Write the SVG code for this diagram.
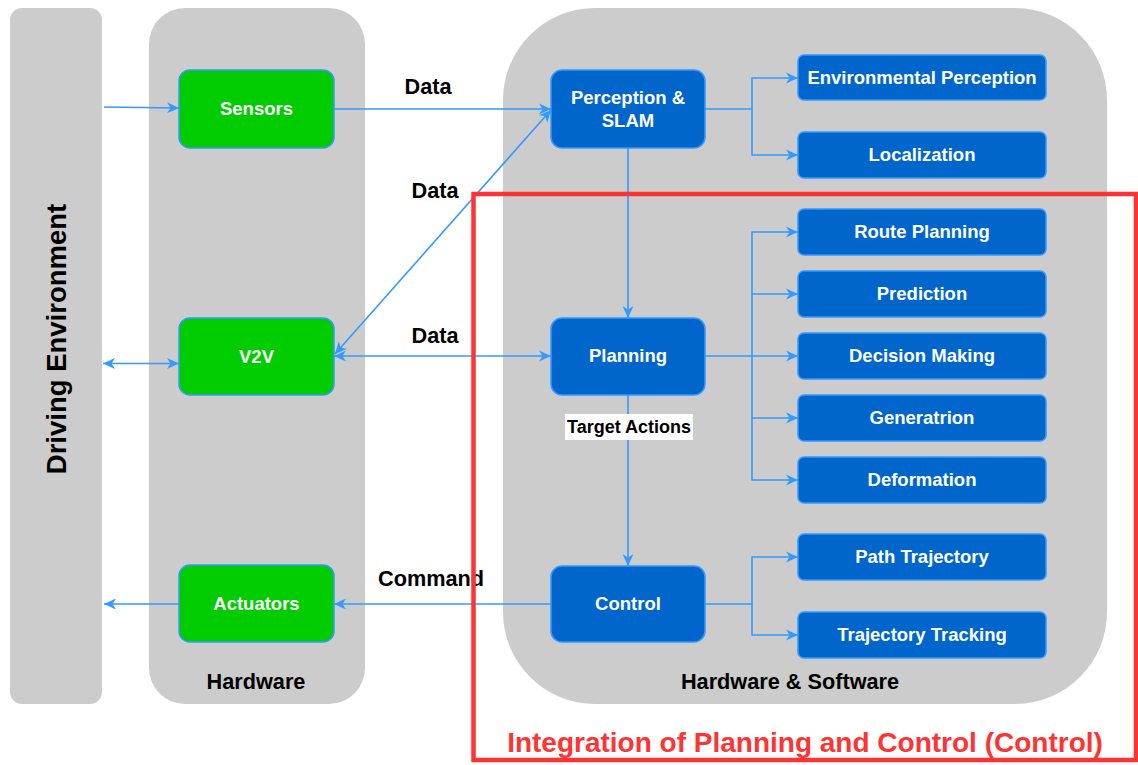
<svg xmlns="http://www.w3.org/2000/svg" width="1138" height="765" viewBox="0 0 1138 765">
  <style>
    .panel { fill: #CCCCCC; }
    .hw { fill: #00CC00; stroke: #3399FF; stroke-width: 1.5; }
    .sw { fill: #0066CC; stroke: #3399FF; stroke-width: 1.5; }
    .nt { font-family: "Liberation Sans", Arial, sans-serif; font-weight: bold; font-size: 18.5px; fill: #FFFFFF; text-anchor: middle; }
    .lbl { font-family: "Liberation Sans", Arial, sans-serif; font-weight: bold; font-size: 21.7px; fill: #000000; text-anchor: middle; }
    .edge { fill: none; stroke: #3399FF; stroke-width: 1.6; }
  </style>
  <defs>
    <marker id="arrow" markerUnits="userSpaceOnUse" markerWidth="13" markerHeight="12" refX="12" refY="6" orient="auto-start-reverse">
      <path d="M0,0.5 L12,6 L0,11.5 L3.5,6 z" fill="#3399FF"/>
    </marker>
  </defs>

  <rect width="1138" height="765" fill="#FFFFFF"/>

  <!-- container panels -->
  <g id="driving-environment">
    <rect class="panel" x="10" y="8" width="92" height="696" rx="12"/>
    <text class="lbl" style="font-size:27.5px" transform="translate(66,339) rotate(-90)">Driving Environment</text>
  </g>
  <g id="hardware">
    <rect class="panel" x="149" y="8" width="216" height="696" rx="36"/>
    <text class="lbl" x="256" y="689">Hardware</text>
  </g>
  <g id="hardware-software">
    <rect class="panel" x="503" y="8" width="604" height="696" rx="92"/>
    <text class="lbl" x="790" y="689">Hardware &amp; Software</text>
  </g>

  <!-- connectors -->
  <g id="connectors">
    <path class="edge" d="M104,107 L179,108" marker-end="url(#arrow)"/>
    <path class="edge" d="M334,109 L551,109" marker-end="url(#arrow)"/>
    <path class="edge" d="M335,354 L551,110" marker-start="url(#arrow)" marker-end="url(#arrow)"/>
    <path class="edge" d="M334,356 L551,356" marker-start="url(#arrow)" marker-end="url(#arrow)"/>
    <path class="edge" d="M103,363.5 L179,363.5" marker-start="url(#arrow)" marker-end="url(#arrow)"/>
    <path class="edge" d="M628,148 L628,318" marker-end="url(#arrow)"/>
    <path class="edge" d="M628,395 L628,566" marker-end="url(#arrow)"/>
    <path class="edge" d="M551,604 L334,604" marker-end="url(#arrow)"/>
    <path class="edge" d="M179,604 L104,604" marker-end="url(#arrow)"/>

    <path class="edge" d="M705,109 L752,109 L752,78 L798,78" marker-end="url(#arrow)"/>
    <path class="edge" d="M752,109 L752,155 L798,155" marker-end="url(#arrow)"/>

    <path class="edge" d="M705,356 L798,356" marker-end="url(#arrow)"/>
    <path class="edge" d="M752,356 L752,232 L798,232" marker-end="url(#arrow)"/>
    <path class="edge" d="M752,294 L798,294" marker-end="url(#arrow)"/>
    <path class="edge" d="M752,356 L752,480 L798,480" marker-end="url(#arrow)"/>
    <path class="edge" d="M752,418 L798,418" marker-end="url(#arrow)"/>

    <path class="edge" d="M705,604 L752,604 L752,557 L798,557" marker-end="url(#arrow)"/>
    <path class="edge" d="M752,604 L752,635 L798,635" marker-end="url(#arrow)"/>

    <text class="lbl" x="428" y="94">Data</text>
    <text class="lbl" x="435" y="198">Data</text>
    <text class="lbl" x="435" y="343">Data</text>
    <text class="lbl" x="431" y="586">Command</text>
    <rect x="565" y="414" width="128" height="26" fill="#FFFFFF"/>
    <text class="lbl" x="629" y="433" style="font-size:18px">Target Actions</text>
  </g>

  <!-- hardware nodes -->
  <g id="sensors">
    <rect class="hw" x="179" y="70" width="155" height="78" rx="11"/>
    <text class="nt" x="256.5" y="115">Sensors</text>
  </g>
  <g id="v2v">
    <rect class="hw" x="179" y="318" width="155" height="77" rx="11"/>
    <text class="nt" x="256.5" y="363">V2V</text>
  </g>
  <g id="actuators">
    <rect class="hw" x="179" y="565" width="155" height="77" rx="11"/>
    <text class="nt" x="256.5" y="610">Actuators</text>
  </g>

  <!-- software nodes -->
  <g id="perception-slam">
    <rect class="sw" x="551" y="70" width="154" height="78" rx="11"/>
    <text class="nt" x="628" y="104">Perception &amp;</text>
    <text class="nt" x="628" y="127">SLAM</text>
  </g>
  <g id="planning">
    <rect class="sw" x="551" y="318" width="154" height="77" rx="11"/>
    <text class="nt" x="628" y="362">Planning</text>
  </g>
  <g id="control">
    <rect class="sw" x="551" y="566" width="154" height="76" rx="11"/>
    <text class="nt" x="628" y="610">Control</text>
  </g>

  <g id="environmental-perception">
    <rect class="sw" x="798" y="55" width="248" height="45" rx="6"/>
    <text class="nt" x="922" y="84">Environmental Perception</text>
  </g>
  <g id="localization">
    <rect class="sw" x="798" y="132" width="248" height="46" rx="6"/>
    <text class="nt" x="922" y="161">Localization</text>
  </g>
  <g id="route-planning">
    <rect class="sw" x="798" y="209" width="248" height="46" rx="6"/>
    <text class="nt" x="922" y="238">Route Planning</text>
  </g>
  <g id="prediction">
    <rect class="sw" x="798" y="271" width="248" height="46" rx="6"/>
    <text class="nt" x="922" y="300">Prediction</text>
  </g>
  <g id="decision-making">
    <rect class="sw" x="798" y="333" width="248" height="46" rx="6"/>
    <text class="nt" x="922" y="362">Decision Making</text>
  </g>
  <g id="generatrion">
    <rect class="sw" x="798" y="395" width="248" height="46" rx="6"/>
    <text class="nt" x="922" y="424">Generatrion</text>
  </g>
  <g id="deformation">
    <rect class="sw" x="798" y="457" width="248" height="46" rx="6"/>
    <text class="nt" x="922" y="486">Deformation</text>
  </g>
  <g id="path-trajectory">
    <rect class="sw" x="798" y="534" width="248" height="46" rx="6"/>
    <text class="nt" x="922" y="563">Path Trajectory</text>
  </g>
  <g id="trajectory-tracking">
    <rect class="sw" x="798" y="612" width="248" height="46" rx="6"/>
    <text class="nt" x="922" y="641">Trajectory Tracking</text>
  </g>

  <!-- highlighted region: planning and control -->
  <g id="integration-region">
    <rect x="473.5" y="194" width="662.5" height="566" fill="none" stroke="#FF3333" stroke-width="4.5"/>
    <text x="805" y="752" font-family="Liberation Sans, Arial, sans-serif" font-weight="bold" font-size="28" fill="#FF3333" text-anchor="middle">Integration of Planning and Control (Control)</text>
  </g>
</svg>
